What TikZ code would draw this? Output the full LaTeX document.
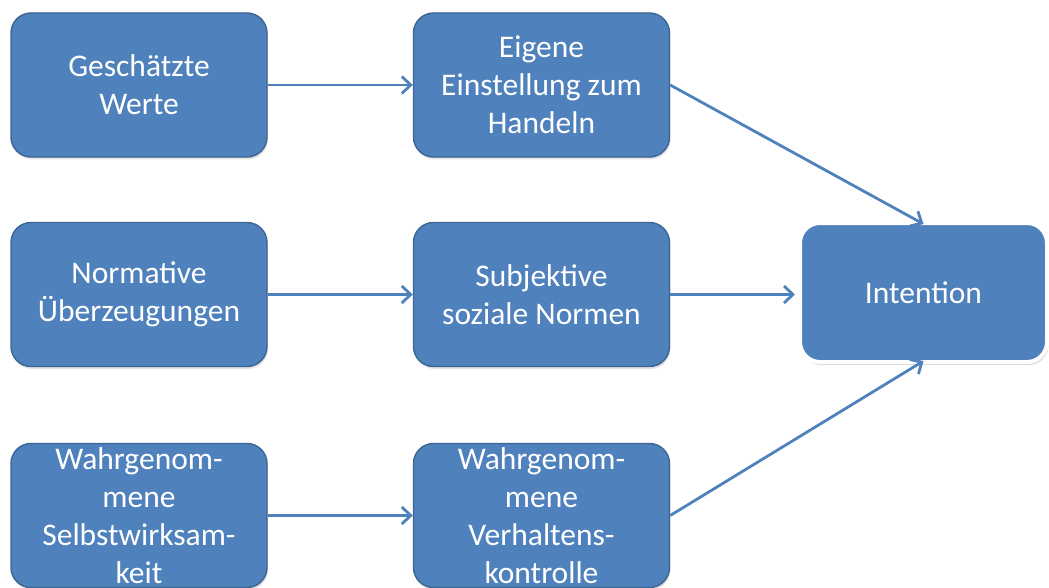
\documentclass[tikz,border=0pt]{standalone}
\usepackage{fontspec}
\setmainfont{Carlito}
\usetikzlibrary{arrows.meta,shadows}
\definecolor{boxfill}{HTML}{4F81BD}
\definecolor{boxline}{HTML}{3B6592}
\definecolor{arrowcol}{HTML}{4F81BD}
\begin{document}
\begin{tikzpicture}[x=1pt,y=-1pt,
  stepbox/.style={draw=boxline, line width=1.4pt, fill=boxfill,
    rounded corners=20pt, minimum width=256pt, minimum height=144pt,
    inner sep=0pt, align=center, text=white,
    font=\fontsize{31.5pt}{38pt}\selectfont,
    drop shadow={opacity=0.22, shadow xshift=1pt, shadow yshift=-2.5pt}},
  goalbox/.style={draw=white, line width=4pt, fill=boxfill,
    rounded corners=20pt, minimum width=247pt, minimum height=139pt,
    inner sep=0pt, align=center, text=white,
    font=\fontsize{31.5pt}{38pt}\selectfont,
    drop shadow={opacity=0.3, shadow xshift=1.5pt, shadow yshift=-3pt}},
  link/.style={draw=arrowcol, line width=2.8pt,
    -{Straight Barb[length=9pt,width=17pt,line width=2.8pt]}}]
  \useasboundingbox (0,0) rectangle (1049,588);

  % left column
  \node[stepbox] (werte)  at (139,85)    {Geschätzte\\Werte};
  \node[stepbox] (normen) at (139,294.5) {Normative\\Überzeugungen};
  \node[stepbox] (selbst) at (139,515.5) {Wahrgenom-\\mene\\Selbstwirksam-\\keit};

  % middle column
  \node[stepbox] (einst)  at (541.5,85)    {Eigene\\Einstellung zum\\Handeln};
  \node[stepbox] (subj)   at (541.5,294.5) {Subjektive\\soziale Normen};
  \node[stepbox] (kontr)  at (541.5,515.5) {Wahrgenom-\\mene\\Verhaltens-\\kontrolle};

  % goal
  \node[goalbox] (intent) at (923.5,292.5) {Intention};

  % connectors
  \draw[link] (werte.east)  -- (einst.west);
  \draw[link] (normen.east) -- (subj.west);
  \draw[link] (selbst.east) -- (kontr.west);
  \draw[link] (einst.east)  -- ([yshift=-3pt]intent.north);
  \draw[link] (subj.east)   -- ([xshift=-3pt]subj.east -| intent.west);
  \draw[link] (kontr.east)  -- ([yshift=3pt]intent.south);
\end{tikzpicture}
\end{document}
